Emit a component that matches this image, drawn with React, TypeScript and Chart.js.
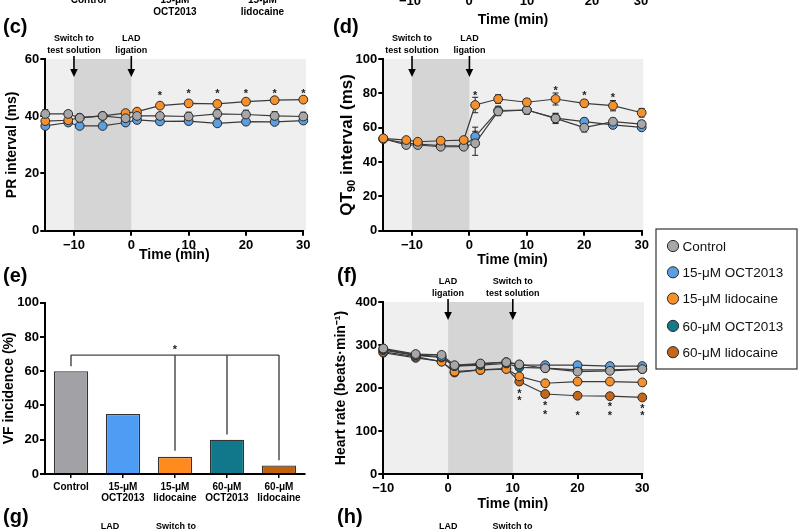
import React, { useEffect, useRef } from 'react';
import { Chart, registerables } from 'chart.js';

Chart.register(...registerables);

const FONT = "'Liberation Sans', Arial, Helvetica, sans-serif";

// ---------------- data ----------------
const groupNames = ['Control', '15-μM OCT2013', '15-μM lidocaine', '60-μM OCT2013', '60-μM lidocaine'];
const groupColors = ['#a7a7aa', '#5b9fe2', '#f5902b', '#13798b', '#c4661c'];
const barColors = ['#a2a2a6', '#4f9cf4', '#ff8b1f', '#10788a', '#c2620e'];

// (c) PR interval
const prTimes = [-15, -11, -9, -5, -1, 1, 5, 10, 15, 20, 25, 30];
const prControl = [40.8, 40.8, 39.4, 40.1, 39.3, 40.1, 40.1, 39.9, 40.8, 40.6, 40.1, 39.9];
const prOct15 = [36.6, 37.8, 36.6, 36.6, 37.8, 38.7, 38.2, 38.3, 37.5, 38.1, 38.0, 38.5];
const prLido15 = [38.3, 38.6, 39.5, 40.1, 41.1, 41.6, 43.7, 44.5, 44.3, 45.1, 45.6, 45.8];
const prErrControl = [1.5, 1.2, 1.0, 1.0, 1.2, 1.2, 1.2, 1.5, 1.5, 1.5, 1.5, 1.5];
const prErrOct15 = [0.8, 0.8, 0.8, 0.8, 0.8, 1.0, 1.0, 1.0, 0.8, 0.8, 0.8, 0.8];
const prErrLido15 = [1.0, 1.0, 0.8, 0.8, 1.0, 1.0, 1.0, 1.0, 1.0, 1.0, 1.0, 1.0];
const prStars = [[5, 48.0], [10, 48.8], [15, 48.8], [20, 48.8], [25, 48.8], [30, 48.8]];
const prTicksX = [-10, 0, 10, 20, 30];
const prTicksY = [0, 20, 40, 60];

// (d) QT90 interval
const qtTimes = [-15, -11, -9, -5, -1, 1, 5, 10, 15, 20, 25, 30];
const qtControl = [53.6, 49.9, 49.9, 48.9, 48.9, 50.9, 69.5, 70.3, 65.4, 60.0, 63.5, 62.1];
const qtOct15 = [53.4, 51.0, 50.5, 49.6, 49.3, 54.8, 70.0, 70.3, 65.6, 63.5, 61.6, 60.2];
const qtLido15 = [53.8, 52.8, 51.8, 52.4, 52.8, 73.2, 76.7, 74.8, 76.7, 74.2, 72.8, 68.7];
const qtErrControl = [1.5, 1.0, 1.0, 1.0, 1.0, 7.0, 2.5, 2.5, 3.0, 2.5, 2.0, 2.0];
const qtErrOct15 = [1.0, 1.0, 1.0, 1.0, 1.0, 5.5, 2.5, 2.0, 2.5, 2.0, 2.0, 1.5];
const qtErrLido15 = [1.5, 1.5, 1.5, 1.5, 1.5, 4.5, 2.5, 2.0, 3.5, 2.0, 3.0, 2.5];
const qtStars = [[1, 80.2], [15, 82.9], [20, 80.0], [25, 79.2]];
const qtTicksX = [-10, 0, 10, 20, 30];
const qtTicksY = [0, 20, 40, 60, 80, 100];
const qtTitleParts = [['QT', 0], ['90', 1], [' interval (ms)', 0]];

// (e) VF incidence
const vfLabels = [['Control'], ['15-μM', 'OCT2013'], ['15-μM', 'lidocaine'], ['60-μM', 'OCT2013'], ['60-μM', 'lidocaine']];
const vfValues = [60, 35, 10, 20, 5];
const vfBracketTop = 69.4;
const vfBracketLegs = [62.9, null, 13.6, 23.0, 8.0];
const vfStar = [2, 74.2];
const vfTicksY = [0, 20, 40, 60, 80, 100];

// (f) Heart rate
const hrTimes = [-10, -5, -1, 1, 5, 9, 11, 15, 20, 25, 30];
const hrControl = [292, 279, 277, 253, 257, 260, 255, 246, 238, 240, 244];
const hrOct15 = [290, 277, 273, 251, 256, 260, 254, 253, 253, 251, 251];
const hrLido15 = [284, 273, 261, 238, 242, 244, 227, 211, 215, 215, 213];
const hrOct60 = [288, 276, 271, 251, 253, 257, 248, 246, 242, 242, 244];
const hrLido60 = [282, 270, 262, 236, 242, 245, 215, 186, 182, 181, 178];
const hrErrControl = [5, 5, 5, 5, 5, 5, 5, 6, 6, 6, 6];
const hrErrOct15 = [5, 4, 4, 4, 4, 4, 5, 6, 7, 6, 6];
const hrStars = [[11, 194], [11, 176], [15, 164], [15, 145], [20, 141], [25, 163], [25, 143], [30, 158], [30, 141]];
const hrTicksX = [-10, 0, 10, 20, 30];
const hrTicksY = [0, 100, 200, 300, 400];

// event annotations
const evSwitch = ['Switch to', 'test solution'];
const evLAD = ['LAD', 'ligation'];

// clipped neighbour-panel texts
const topBarLabels = [['Control'], ['15-μM', 'OCT2013'], ['15-μM', 'lidocaine']];
const topTimeTicks = ['\u221210', '0', '10', '20', '30'];

// ---------------- helpers ----------------
const fmt = (v: number) => (v < 0 ? '\u2212' + Math.abs(v) : String(v));
const tickFont = { family: FONT, size: 13, weight: 'bold' };

function axisX(min: number, max: number, vals: number[], height: number, tickPad: number, titlePad: number) {
  return {
    type: 'linear',
    min,
    max,
    afterBuildTicks: (s: any) => { s.ticks = vals.map((v) => ({ value: v })); },
    afterFit: (s: any) => { s.height = height; },
    ticks: { font: tickFont, color: '#000', padding: tickPad, maxRotation: 0, autoSkip: false, callback: (v: any) => fmt(Number(v)) },
    grid: { display: true, drawOnChartArea: false, drawTicks: true, tickLength: 5, color: '#000', lineWidth: 2 },
    border: { display: true, color: '#000', width: 2 },
    title: { display: true, text: 'Time (min)', color: '#000', font: { family: FONT, size: 14, weight: 'bold' }, padding: { top: 0, bottom: titlePad } },
  };
}

function axisY(min: number, max: number, vals: number[], width: number, title: string, titlePad: number, showTitle = true) {
  return {
    type: 'linear',
    min,
    max,
    afterBuildTicks: (s: any) => { s.ticks = vals.map((v) => ({ value: v })); },
    afterFit: (s: any) => { s.width = width; },
    ticks: { font: tickFont, color: '#000', padding: 1, callback: (v: any) => fmt(Number(v)) },
    grid: { display: true, drawOnChartArea: false, drawTicks: true, tickLength: 5, color: '#000', lineWidth: 2 },
    border: { display: true, color: '#000', width: 2 },
    title: { display: showTitle, text: title, color: '#000', font: { family: FONT, size: 14, weight: 'bold' }, padding: { top: titlePad, bottom: 0 } },
  };
}

function lineSet(label: string, times: number[], values: number[], color: string) {
  return {
    label,
    data: times.map((t, i) => ({ x: t, y: values[i] })),
    borderColor: '#3a3a3a',
    borderWidth: 1.2,
    backgroundColor: color,
    pointBackgroundColor: color,
    pointBorderColor: '#2a2a2a',
    pointBorderWidth: 1,
    pointRadius: 4.4,
    fill: false,
    tension: 0,
    clip: false,
  };
}

function shadePlugin(from: number, to: number, extra: number) {
  return {
    id: 'shade',
    beforeDraw(chart: any) {
      const { ctx, chartArea: a, scales } = chart;
      ctx.save();
      ctx.fillStyle = '#efefef';
      ctx.fillRect(a.left, a.top, a.right - a.left + extra, a.bottom - a.top);
      const x0 = scales.x.getPixelForValue(from);
      const x1 = scales.x.getPixelForValue(to);
      ctx.fillStyle = '#d5d5d5';
      ctx.fillRect(x0, a.top, x1 - x0, a.bottom - a.top);
      ctx.restore();
    },
  };
}

function errPlugin(errs: (number[] | null)[]) {
  return {
    id: 'errbars',
    beforeDatasetsDraw(chart: any) {
      const { ctx } = chart;
      const ys = chart.scales.y;
      ctx.save();
      ctx.strokeStyle = '#222';
      ctx.lineWidth = 1;
      chart.data.datasets.forEach((ds: any, i: number) => {
        const e = errs[i];
        if (!e) return;
        const meta = chart.getDatasetMeta(i);
        meta.data.forEach((pt: any, j: number) => {
          const v = ds.data[j].y;
          const x = pt.x;
          const y1 = ys.getPixelForValue(v + e[j]);
          const y2 = ys.getPixelForValue(v - e[j]);
          ctx.beginPath();
          ctx.moveTo(x, y1); ctx.lineTo(x, y2);
          ctx.moveTo(x - 3, y1); ctx.lineTo(x + 3, y1);
          ctx.moveTo(x - 3, y2); ctx.lineTo(x + 3, y2);
          ctx.stroke();
        });
      });
      ctx.restore();
    },
  };
}

function starPlugin(stars: number[][]) {
  return {
    id: 'stars',
    afterDatasetsDraw(chart: any) {
      const { ctx, scales } = chart;
      ctx.save();
      ctx.font = `bold 11px ${FONT}`;
      ctx.fillStyle = '#222';
      ctx.textAlign = 'center';
      ctx.textBaseline = 'alphabetic';
      stars.forEach(([t, v]) => {
        ctx.fillText('*', scales.x.getPixelForValue(t), scales.y.getPixelForValue(v) + 6);
      });
      ctx.restore();
    },
  };
}

function eventPlugin(events: { t: number; lines: string[] }[]) {
  return {
    id: 'events',
    afterDraw(chart: any) {
      const { ctx, chartArea: a, scales } = chart;
      ctx.save();
      ctx.font = `bold 9px ${FONT}`;
      ctx.fillStyle = '#000';
      ctx.strokeStyle = '#000';
      ctx.textAlign = 'center';
      ctx.textBaseline = 'alphabetic';
      events.forEach((ev) => {
        const px = scales.x.getPixelForValue(ev.t);
        ctx.fillText(ev.lines[0], px, a.top - 18);
        ctx.fillText(ev.lines[1], px, a.top - 6.5);
        ctx.lineWidth = 1.6;
        ctx.beginPath();
        ctx.moveTo(px, a.top - 3);
        ctx.lineTo(px, a.top + 11);
        ctx.stroke();
        ctx.beginPath();
        ctx.moveTo(px - 3.8, a.top + 10);
        ctx.lineTo(px + 3.8, a.top + 10);
        ctx.lineTo(px, a.top + 18);
        ctx.closePath();
        ctx.fill();
      });
      ctx.restore();
    },
  };
}

// y-axis title with a true subscript (QT90)
function subTitlePlugin(parts: any[], centerX: number, mainSize: number, subSize: number) {
  return {
    id: 'subtitle',
    afterDraw(chart: any) {
      const { ctx, chartArea: a } = chart;
      const main = `bold ${mainSize}px ${FONT}`;
      const sub = `bold ${subSize}px ${FONT}`;
      ctx.save();
      let total = 0;
      parts.forEach(([t, s]) => { ctx.font = s ? sub : main; total += ctx.measureText(t).width; });
      const cy = (a.top + a.bottom) / 2;
      ctx.translate(centerX, cy);
      ctx.rotate(-Math.PI / 2);
      ctx.fillStyle = '#000';
      ctx.textAlign = 'left';
      ctx.textBaseline = 'alphabetic';
      let x = -total / 2;
      const base = mainSize * 0.36;
      parts.forEach(([t, s]) => {
        ctx.font = s ? sub : main;
        ctx.fillText(t, x, s ? base + subSize * 0.3 : base);
        x += ctx.measureText(t).width;
      });
      ctx.restore();
    },
  };
}

function bracketPlugin() {
  return {
    id: 'bracket',
    afterDatasetsDraw(chart: any) {
      const { ctx, scales } = chart;
      const yt = scales.y.getPixelForValue(vfBracketTop);
      ctx.save();
      ctx.strokeStyle = '#444';
      ctx.lineWidth = 1.4;
      const xs: number[] = [];
      vfBracketLegs.forEach((leg, i) => {
        if (leg === null) return;
        const x = scales.x.getPixelForValue(i);
        xs.push(x);
        ctx.beginPath();
        ctx.moveTo(x, yt);
        ctx.lineTo(x, scales.y.getPixelForValue(leg));
        ctx.stroke();
      });
      ctx.beginPath();
      ctx.moveTo(Math.min(...xs), yt);
      ctx.lineTo(Math.max(...xs), yt);
      ctx.stroke();
      ctx.font = `bold 11px ${FONT}`;
      ctx.fillStyle = '#222';
      ctx.textAlign = 'center';
      ctx.fillText('*', scales.x.getPixelForValue(vfStar[0]), scales.y.getPixelForValue(vfStar[1]) + 6);
      ctx.restore();
    },
  };
}

const baseOptions = (padding: any, scales: any) => ({
  responsive: false,
  animation: false,
  events: [],
  layout: { padding },
  plugins: { legend: { display: false }, tooltip: { enabled: false } },
  scales,
});

// ---------------- chart configs ----------------
const makePR = () => ({
  type: 'line',
  data: {
    datasets: [
      lineSet(groupNames[0], prTimes, prControl, groupColors[0]),
      lineSet(groupNames[2], prTimes, prLido15, groupColors[2]),
      lineSet(groupNames[1], prTimes, prOct15, groupColors[1]),
    ],
  },
  options: baseOptions({ left: 0, top: 59, right: 16.7, bottom: 0 }, {
    x: axisX(-15, 30, prTicksX, 34.3, 2.0, 1.5),
    y: axisY(0, 60, prTicksY, 45.3, 'PR interval (ms)', 3.3),
  }),
  plugins: [
    shadePlugin(-10, 0, 2.7),
    errPlugin([prErrControl, prErrLido15, prErrOct15]),
    starPlugin(prStars),
    eventPlugin([{ t: -10, lines: evSwitch }, { t: 0, lines: evLAD }]),
  ],
});

const makeQT = () => ({
  type: 'line',
  data: {
    datasets: [
      lineSet(groupNames[2], qtTimes, qtLido15, groupColors[2]),
      lineSet(groupNames[0], qtTimes, qtControl, groupColors[0]),
      lineSet(groupNames[1], qtTimes, qtOct15, groupColors[1]),
    ],
  },
  options: baseOptions({ left: 0, top: 59, right: 18.3, bottom: 0 }, {
    x: axisX(-15, 30, qtTicksX, 39.3, 1.5, 1.6),
    y: axisY(0, 100, qtTicksY, 53.3, 'QT90 interval (ms)', 5.5, false),
  }),
  plugins: [
    shadePlugin(-10, 0, 1.6),
    errPlugin([qtErrLido15, qtErrControl, qtErrOct15]),
    starPlugin(qtStars),
    eventPlugin([{ t: -10, lines: evSwitch }, { t: 0, lines: evLAD }]),
    subTitlePlugin(qtTitleParts, 15.5, 17, 11),
  ],
});

const makeVF = () => ({
  type: 'bar',
  data: {
    labels: vfLabels,
    datasets: [{
      data: vfValues,
      backgroundColor: barColors,
      borderColor: '#333',
      borderWidth: 1.3,
      barPercentage: 0.66,
      categoryPercentage: 1,
    }],
  },
  options: baseOptions({ left: 0, top: 32.7, right: 15, bottom: 0 }, {
    x: {
      type: 'category',
      afterFit: (s: any) => { s.height = 46; },
      ticks: { font: { family: FONT, size: 10, weight: 'bold', lineHeight: 1.15 }, color: '#000', padding: 3, maxRotation: 0, autoSkip: false },
      grid: { display: true, offset: false, drawOnChartArea: false, drawTicks: true, tickLength: 4, color: '#000', lineWidth: 1.5 },
      border: { display: true, color: '#000', width: 2 },
    },
    y: axisY(0, 100, vfTicksY, 45, 'VF incidence (%)', 0.4),
  }),
  plugins: [bracketPlugin()],
});

const makeHR = () => ({
  type: 'line',
  data: {
    datasets: [
      lineSet(groupNames[0], hrTimes, hrControl, groupColors[0]),
      lineSet(groupNames[1], hrTimes, hrOct15, groupColors[1]),
      lineSet(groupNames[3], hrTimes, hrOct60, groupColors[3]),
      lineSet(groupNames[2], hrTimes, hrLido15, groupColors[2]),
      lineSet(groupNames[4], hrTimes, hrLido60, groupColors[4]),
    ],
  },
  options: baseOptions({ left: 0, top: 32, right: 17.7, bottom: 0 }, {
    x: axisX(-10, 30, hrTicksX, 41, 1.5, 2.6),
    y: axisY(0, 400, hrTicksY, 53.3, 'Heart rate (beats\u00b7min\u207b\u00b9)', 2.4),
  }),
  plugins: [
    shadePlugin(0, 10, 1.7),
    errPlugin([hrErrControl, hrErrOct15, null, null, null]),
    starPlugin(hrStars),
    eventPlugin([{ t: 0, lines: evLAD }, { t: 10, lines: evSwitch }]),
  ],
});

// ---------------- components ----------------
function ChartCanvas({ x, y, w, h, make }: any) {
  const ref = useRef<HTMLCanvasElement>(null);
  useEffect(() => {
    const chart = new Chart(ref.current as any, make());
    return () => chart.destroy();
  }, []);
  return (
    <canvas
      ref={ref}
      width={w}
      height={h}
      style={{ position: 'absolute', left: x, top: y, width: w, height: h }}
    />
  );
}

function Overlay() {
  const letter = { fontSize: 20, fontWeight: 'bold' as const, fill: '#000' };
  const small = { fontSize: 10, fontWeight: 'bold' as const, fill: '#000', textAnchor: 'middle' as const };
  const ev = { fontSize: 9, fontWeight: 'bold' as const, fill: '#000', textAnchor: 'middle' as const };
  const topCenters = [88.5, 175, 262.5];
  const topTickX = [410, 469, 527, 592, 641];
  const legendY = [246, 272.3, 298.6, 325.9, 352.2];
  return (
    <svg width={800} height={530} style={{ position: 'absolute', left: 0, top: 0, pointerEvents: 'none' }} fontFamily={FONT}>
      {/* clipped bottom of the panels above */}
      {topBarLabels.map((lines, i) =>
        lines.map((ln, k) => (
          <text key={`tb${i}${k}`} x={topCenters[i]} y={lines.length === 1 ? 3.3 : 3.3 + k * 11.7} {...small}>{ln}</text>
        ))
      )}
      {topTimeTicks.map((t, i) => (
        <text key={`tt${i}`} x={topTickX[i]} y={5} fontSize={13} fontWeight="bold" textAnchor="middle">{t}</text>
      ))}
      <text x={513} y={23.5} fontSize={14} fontWeight="bold" textAnchor="middle">Time (min)</text>

      {/* panel letters */}
      <text x={3} y={33} {...letter}>(c)</text>
      <text x={333} y={33} {...letter}>(d)</text>
      <text x={3} y={282} {...letter}>(e)</text>
      <text x={337} y={282} {...letter}>(f)</text>
      <text x={3} y={523} {...letter}>(g)</text>
      <text x={337} y={523} {...letter}>(h)</text>

      {/* clipped tops of the panels below */}
      <text x={110} y={528.5} {...ev}>{evLAD[0]}</text>
      <text x={176} y={528.5} {...ev}>{evSwitch[0]}</text>
      <text x={448.3} y={528.5} {...ev}>{evLAD[0]}</text>
      <text x={512.5} y={528.5} {...ev}>{evSwitch[0]}</text>

      {/* legend */}
      <rect x={656} y={229} width={141} height={140} fill="#fff" stroke="#333" strokeWidth={1.2} />
      {groupNames.map((n, i) => (
        <g key={`lg${i}`}>
          <circle cx={673} cy={legendY[i]} r={5.6} fill={groupColors[i]} stroke="#2a2a2a" strokeWidth={1} />
          <text x={682.5} y={legendY[i] + 4.8} fontSize={13.5} fill="#111">{n}</text>
        </g>
      ))}
    </svg>
  );
}

export default function App() {
  return (
    <div style={{ position: 'absolute', left: 0, top: 0, width: 800, height: 530, background: '#fff', overflow: 'hidden' }}>
      <ChartCanvas x={0} y={0} w={320} h={265} make={makePR} />
      <ChartCanvas x={330} y={0} w={330} h={270} make={makeQT} />
      <ChartCanvas x={0} y={270} w={320} h={250} make={makeVF} />
      <ChartCanvas x={330} y={270} w={330} h={245} make={makeHR} />
      <Overlay />
    </div>
  );
}
